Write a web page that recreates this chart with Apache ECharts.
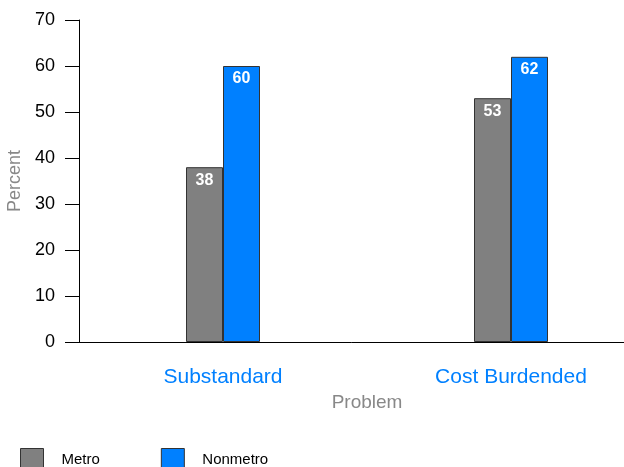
<!DOCTYPE html>
<html>
<head>
<meta charset="utf-8">
<script src="https://cdn.jsdelivr.net/npm/echarts@6/dist/echarts.min.js"></script>
<style>
  html, body { margin: 0; padding: 0; background: #fff; }
  #chart { width: 624px; height: 467px; }
</style>
</head>
<body>
<div id="chart"></div>
<script>
// 数据
const problems = ['Substandard', 'Cost Burdended'];
const metro = [38, 53];
const nonmetro = [60, 62];
const seriesNames = ['Metro', 'Nonmetro'];
const colors = ['#808080', '#0080ff'];

const chart = echarts.init(document.getElementById('chart'));

const barLabel = {
    show: true,
    position: 'insideTop',
    distance: 5,
    color: '#fff',
    fontWeight: 'bold',
    fontSize: 16,
    fontFamily: 'Liberation Sans, Arial, sans-serif'
};

chart.setOption({
    animation: false,
    textStyle: { fontFamily: 'Liberation Sans, Arial, sans-serif' },
    // 网格右侧超出画布，与原图一致
    grid: { left: 79, width: 576, top: 20, height: 322, outerBoundsMode: 'none', containLabel: false },
    legend: {
        left: 15,
        top: 443,
        itemWidth: 23,
        itemHeight: 22,
        itemGap: 61,
        icon: 'rect',
        data: seriesNames,
        itemStyle: { borderColor: '#333', borderWidth: 1 },
        textStyle: { color: '#000', fontSize: 15, padding: [0, 0, 0, 13] }
    },
    xAxis: {
        type: 'category',
        data: problems,
        name: 'Problem',
        nameLocation: 'middle',
        nameGap: 46,
        nameTextStyle: { color: '#888', fontSize: 19 },
        axisLine: { lineStyle: { color: '#000', width: 1 } },
        axisTick: { alignWithLabel: true, length: 13, lineStyle: { color: '#555' } },
        axisLabel: { color: '#0080ff', fontSize: 21, margin: 25 }
    },
    yAxis: {
        type: 'value',
        min: 0,
        max: 70,
        interval: 10,
        name: 'Percent',
        nameLocation: 'middle',
        nameGap: 55,
        nameMoveOverlap: false,
        nameTextStyle: { color: '#888', fontSize: 18, padding: [8, 0, 0, 0] },
        axisLine: { show: true, lineStyle: { color: '#000', width: 1 } },
        axisTick: { show: true, length: 14, lineStyle: { color: '#000' } },
        axisLabel: { color: '#000', fontSize: 18, margin: 24 },
        splitLine: { show: false }
    },
    series: [
        {
            name: seriesNames[0],
            type: 'bar',
            data: metro,
            barWidth: 37,
            barGap: '0%',
            itemStyle: { color: colors[0], borderColor: '#333', borderWidth: 1 },
            label: barLabel
        },
        {
            name: seriesNames[1],
            type: 'bar',
            data: nonmetro,
            barWidth: 37,
            itemStyle: { color: colors[1], borderColor: '#333', borderWidth: 1 },
            label: barLabel
        }
    ]
});
</script>
</body>
</html>
